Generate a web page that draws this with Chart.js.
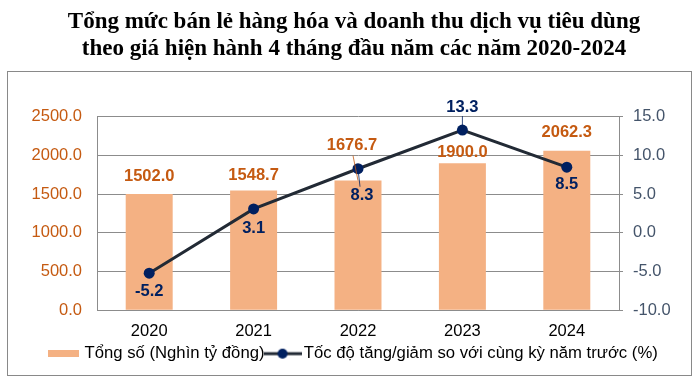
<!DOCTYPE html>
<html>
<head>
<meta charset="utf-8">
<script src="https://cdn.jsdelivr.net/npm/chart.js@4.4.1/dist/chart.umd.min.js"></script>
<style>
  html, body { margin: 0; padding: 0; background: #fff; }
</style>
</head>
<body>
<canvas id="grafico-ban-le" width="700" height="382"></canvas>
<script>
const nam = ["2020", "2021", "2022", "2023", "2024"];
const tongSo = [1502.0, 1548.7, 1676.7, 1900.0, 2062.3];
const tocDo = [-5.2, 3.1, 8.3, 13.3, 8.5];
const tieuDe = [
  "Tổng mức bán lẻ hàng hóa và doanh thu dịch vụ tiêu dùng",
  "theo giá hiện hành 4 tháng đầu năm các năm 2020-2024",
];
const tenCot = "Tổng số (Nghìn tỷ đồng)";
const tenDuong = "Tốc độ tăng/giảm so với cùng kỳ năm trước (%)";

// label nudges [dx, dy] from the bar top / point, like the hand-moved labels in the original
const dichNhanCot = [[0, -18], [0, -15], [-6, -35], [0, -11], [0, -18]];
const dichNhanDuong = [[0, 18], [0, 19], [4, 27], [0, -23], [0, 17]];
const leaderCot = [false, false, true, false, false];
const leaderDuong = [false, false, true, true, false];

const mauCot = "#F4B183";
const mauNhanCot = "#C55A11";
const mauDuong = "#222A35";
const mauDiem = "#002060";
const mauLuoi = "#8c8c8c";

Chart.defaults.font.family = "'Liberation Sans', Arial, sans-serif";

// legend symbols
const kyHieuCot = document.createElement("canvas");
kyHieuCot.width = 31; kyHieuCot.height = 7;
kyHieuCot.getContext("2d").fillStyle = mauCot;
kyHieuCot.getContext("2d").fillRect(0, 0, 31, 7);

const kyHieuDuong = document.createElement("canvas");
kyHieuDuong.width = 38; kyHieuDuong.height = 12;
{
  const c = kyHieuDuong.getContext("2d");
  c.strokeStyle = mauDuong; c.lineWidth = 3;
  c.beginPath(); c.moveTo(0, 6); c.lineTo(38, 6); c.stroke();
  c.fillStyle = mauDiem;
  c.beginPath(); c.arc(19, 6, 5, 0, Math.PI * 2); c.fill();
}

const khungNen = {
  id: "khungNen",
  beforeDraw(chart) {
    const ctx = chart.ctx;
    ctx.save();
    ctx.fillStyle = "#fff";
    ctx.fillRect(0, 0, chart.width, chart.height);
    ctx.strokeStyle = "#898989";
    ctx.lineWidth = 1;
    ctx.strokeRect(7.5, 71.5, 684, 304);
    ctx.restore();
  },
};

const nhanDuLieu = {
  id: "nhanDuLieu",
  afterDatasetsDraw(chart) {
    const ctx = chart.ctx;
    ctx.save();
    ctx.textAlign = "center";
    ctx.textBaseline = "middle";
    ctx.font = "bold 16.5px 'Liberation Sans', Arial, sans-serif";

    chart.getDatasetMeta(0).data.forEach((cot, i) => {
      const x = cot.x + dichNhanCot[i][0];
      const y = cot.y + dichNhanCot[i][1];
      if (leaderCot[i]) {
        ctx.strokeStyle = mauNhanCot; ctx.lineWidth = 0.8;
        ctx.beginPath(); ctx.moveTo(x + 1, y + 10); ctx.lineTo(cot.x, cot.y); ctx.stroke();
      }
      ctx.fillStyle = mauNhanCot;
      ctx.fillText(tongSo[i].toFixed(1), x, y);
    });

    chart.getDatasetMeta(1).data.forEach((diem, i) => {
      const dx = dichNhanDuong[i][0], dy = dichNhanDuong[i][1];
      const x = diem.x + dx;
      const y = diem.y + dy;
      if (leaderDuong[i]) {
        ctx.strokeStyle = mauDiem; ctx.lineWidth = 0.8;
        ctx.beginPath();
        ctx.moveTo(x - dx / 2, y - Math.sign(dy) * 9);
        ctx.lineTo(diem.x, diem.y);
        ctx.stroke();
      }
      ctx.fillStyle = mauDiem;
      ctx.fillText(tocDo[i].toFixed(1), x, y);
    });
    ctx.restore();
  },
};

const ctxBanLe = document.getElementById("grafico-ban-le").getContext("2d");
const duLieuBanLe = {
  labels: nam,
  datasets: [
    {
      type: "bar",
      label: tenCot,
      data: tongSo,
      backgroundColor: mauCot,
      borderWidth: 0,
      barPercentage: 0.45,
      categoryPercentage: 1.0,
      yAxisID: "y",
      order: 2,
    },
    {
      type: "line",
      label: tenDuong,
      data: tocDo,
      borderColor: mauDuong,
      borderWidth: 3,
      pointRadius: 5.5,
      pointBackgroundColor: mauDiem,
      pointBorderColor: mauDiem,
      pointBorderWidth: 0,
      tension: 0,
      fill: false,
      yAxisID: "y1",
      order: 1,
    },
  ],
};

const cauHinhBanLe = {
  data: duLieuBanLe,
  plugins: [khungNen, nhanDuLieu],
  options: {
    responsive: false,
    animation: false,
    layout: { padding: { top: 0, bottom: 10, left: 8, right: 0 } },
    scales: {
      x: {
        grid: { display: false, drawTicks: false },
        border: { display: true, color: mauLuoi },
        ticks: { color: "#000", font: { size: 16.5 }, padding: 11 },
        afterFit(s) { s.height = 30; },
      },
      y: {
        position: "left",
        min: 0,
        max: 2500,
        grid: { color: mauLuoi, drawTicks: false },
        border: { display: true, color: mauLuoi },
        ticks: {
          stepSize: 500,
          color: mauNhanCot,
          font: { size: 16.5 },
          padding: 15,
          callback: (v) => v.toFixed(1),
        },
        afterFit(s) { s.width = 89; },
      },
      y1: {
        position: "right",
        min: -10,
        max: 15,
        grid: { drawOnChartArea: false, drawTicks: true, tickLength: 4, color: mauLuoi },
        border: { display: true, color: mauLuoi },
        ticks: {
          stepSize: 5,
          color: "#44546A",
          font: { size: 16.5 },
          padding: 10,
          callback: (v) => v.toFixed(1),
        },
        afterFit(s) { s.width = 81; },
      },
    },
    plugins: {
      title: {
        display: true,
        text: tieuDe,
        color: "#000",
        font: { family: "'Liberation Serif', 'Times New Roman', serif", size: 23, weight: "bold", lineHeight: 1.15 },
        padding: { top: 9, bottom: 55 },
      },
      legend: {
        display: true,
        position: "bottom",
        labels: {
          usePointStyle: true,
          pointStyleWidth: 26,
          padding: 5,
          color: "#000",
          font: { size: 16.7 },
          generateLabels: () => [
            { text: tenCot, pointStyle: kyHieuCot, fillStyle: mauCot, strokeStyle: mauCot, lineWidth: 0, hidden: false, datasetIndex: 0, fontColor: "#000" },
            { text: tenDuong, pointStyle: kyHieuDuong, fillStyle: mauDiem, strokeStyle: mauDuong, lineWidth: 0, hidden: false, datasetIndex: 1, fontColor: "#000" },
          ],
        },
      },
      tooltip: { enabled: false },
    },
  },
};
const graficoBanLe = new Chart(ctxBanLe, cauHinhBanLe);
</script>
</body>
</html>
